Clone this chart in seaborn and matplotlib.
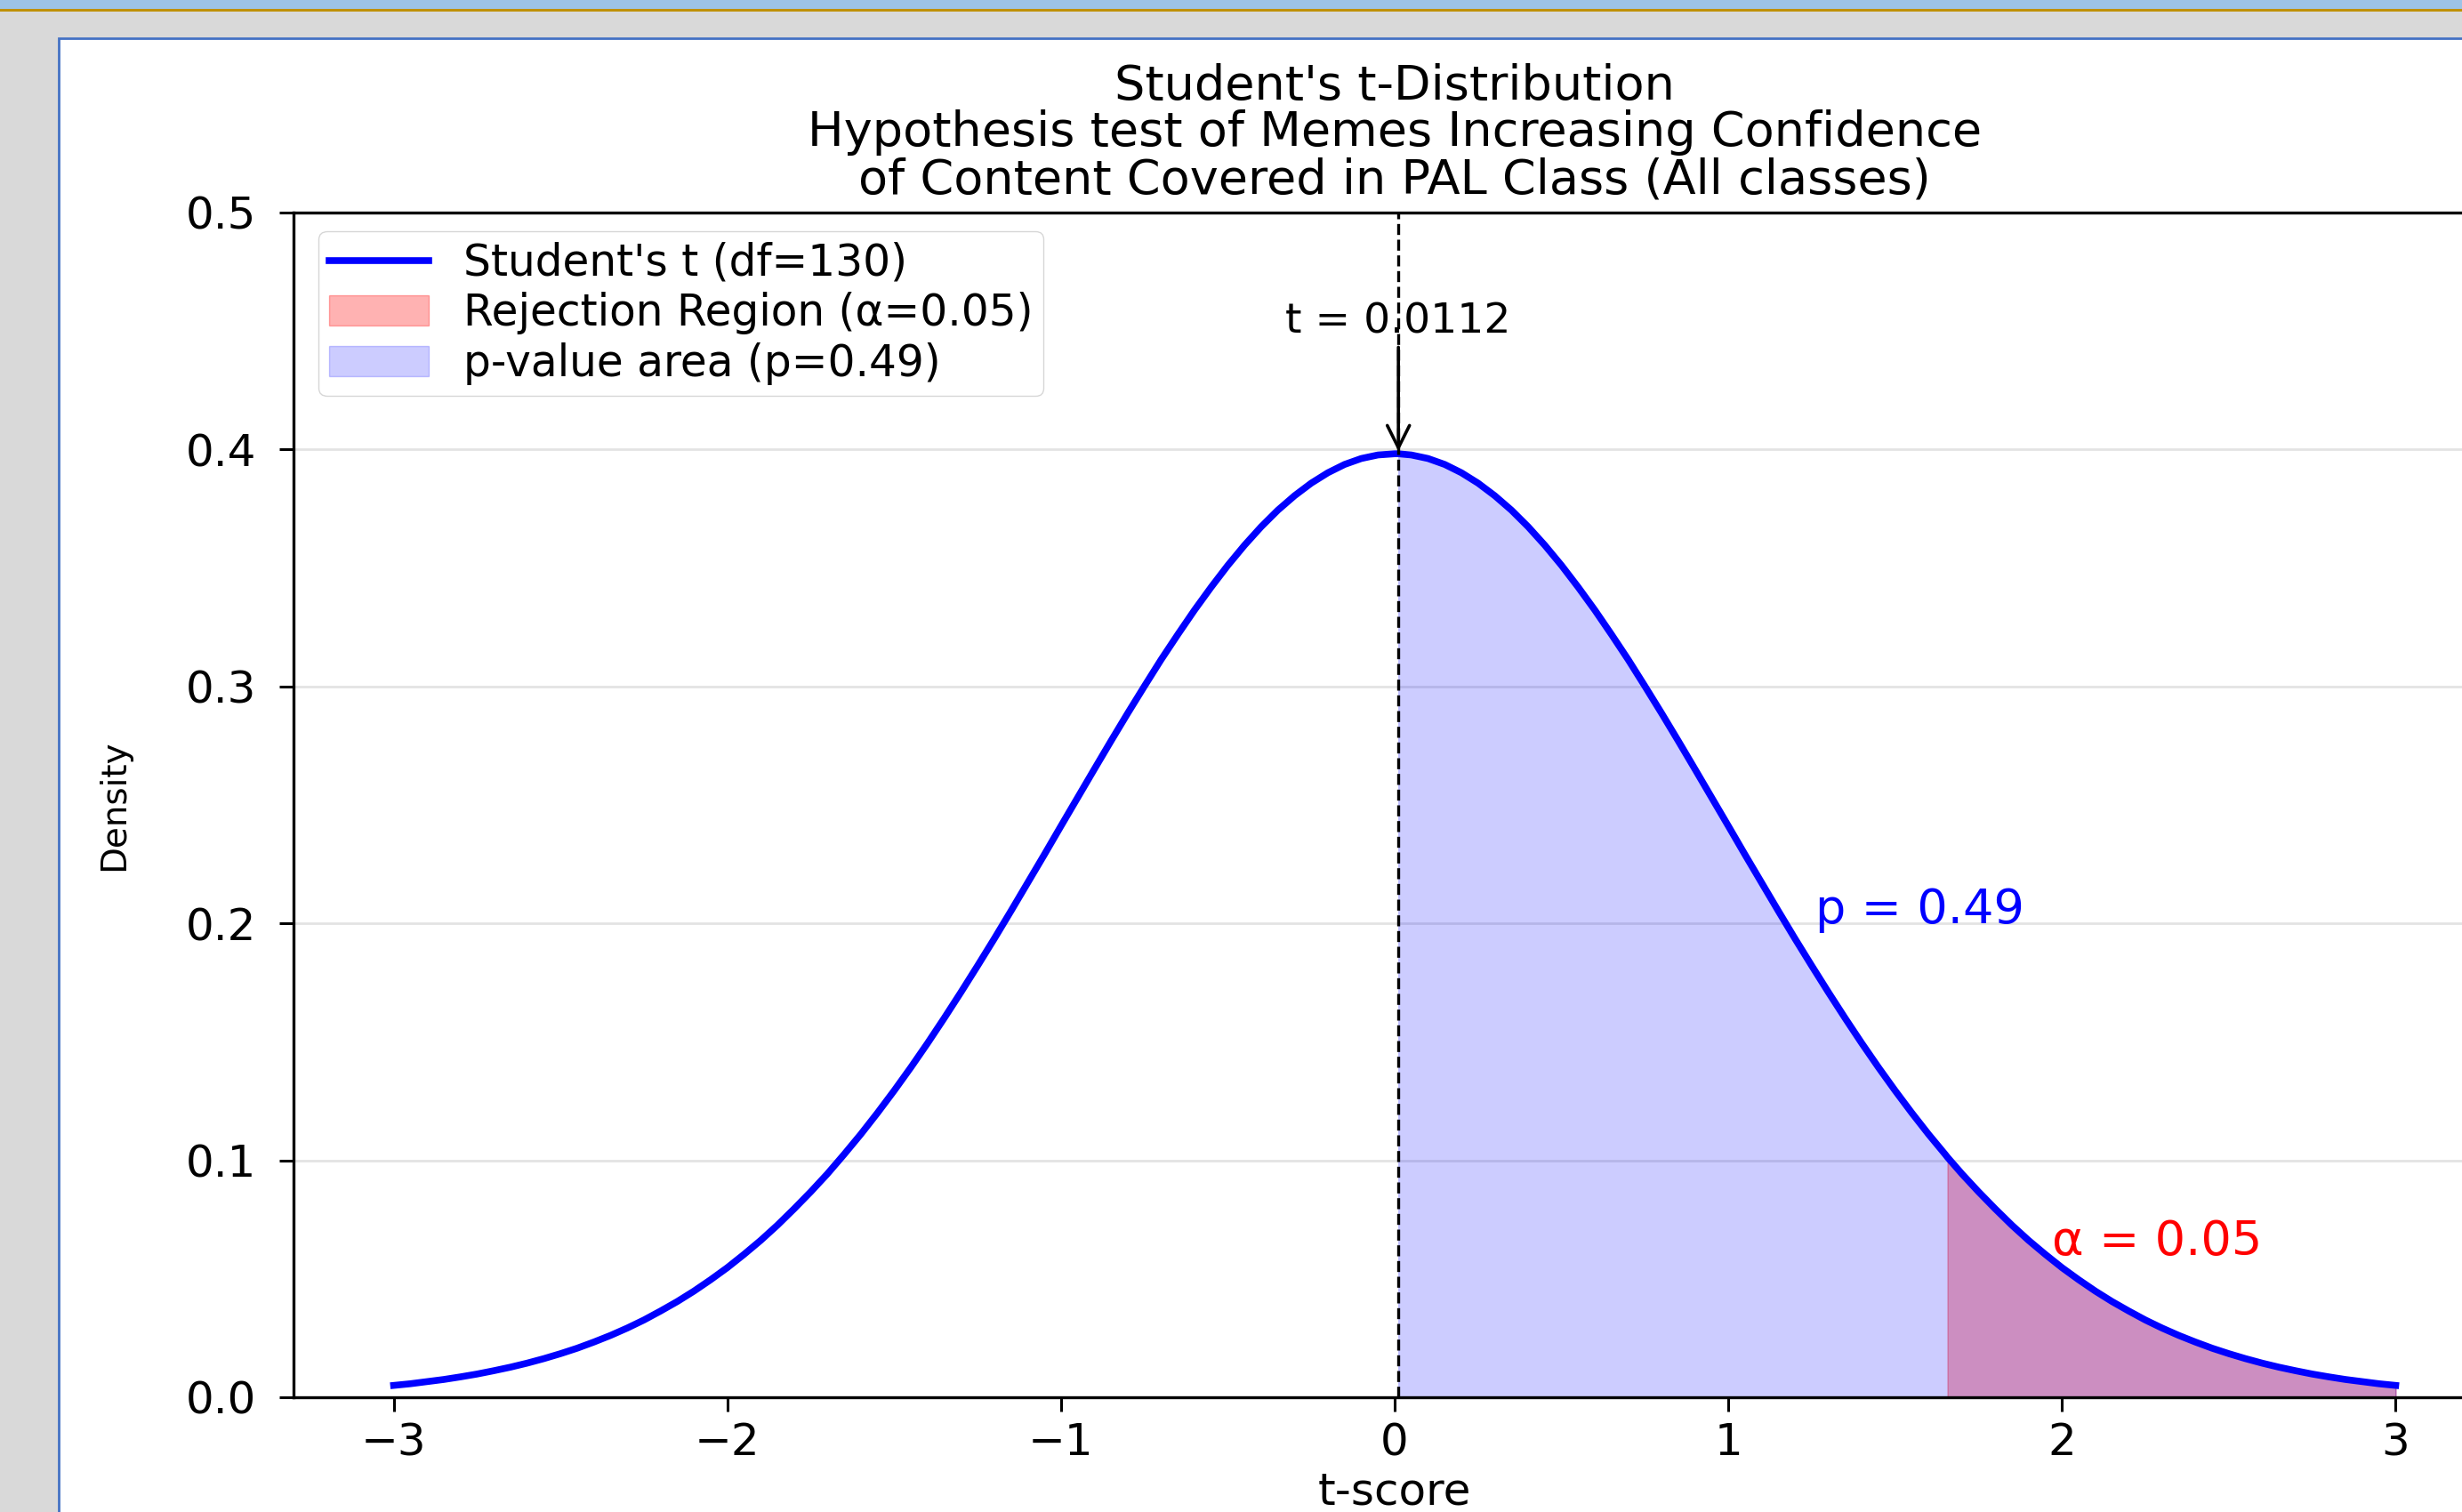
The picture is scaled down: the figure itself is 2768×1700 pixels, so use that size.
import numpy as np
import pandas as pd
import seaborn as sns
import matplotlib.pyplot as plt
from matplotlib.patches import Rectangle

# values
t_stat = 0.0112
t_crit = 1.6567
df_t = 130
alpha = 0.05
p_value = 0.49

t_vals = [-3.0, -2.95, -2.9, -2.85, -2.8, -2.75, -2.7, -2.65, -2.6, -2.55,
          -2.5, -2.45, -2.4, -2.35, -2.3, -2.25, -2.2, -2.15, -2.1, -2.05,
          -2.0, -1.95, -1.9, -1.85, -1.8, -1.75, -1.7, -1.65, -1.6, -1.55,
          -1.5, -1.45, -1.4, -1.35, -1.3, -1.25, -1.2, -1.15, -1.1, -1.05,
          -1.0, -0.95, -0.9, -0.85, -0.8, -0.75, -0.7, -0.65, -0.6, -0.55,
          -0.5, -0.45, -0.4, -0.35, -0.3, -0.25, -0.2, -0.15, -0.1, -0.05,
          0.0, 0.0112, 0.05, 0.1, 0.15, 0.2, 0.25, 0.3, 0.35, 0.4, 0.45,
          0.5, 0.55, 0.6, 0.65, 0.7, 0.75, 0.8, 0.85, 0.9, 0.95,
          1.0, 1.05, 1.1, 1.15, 1.2, 1.25, 1.3, 1.35, 1.4, 1.45,
          1.5, 1.55, 1.6, 1.65, 1.6567, 1.7, 1.75, 1.8, 1.85, 1.9, 1.95,
          2.0, 2.05, 2.1, 2.15, 2.2, 2.25, 2.3, 2.35, 2.4, 2.45,
          2.5, 2.55, 2.6, 2.65, 2.7, 2.75, 2.8, 2.85, 2.9, 2.95, 3.0]
density = [0.0050, 0.0057, 0.0066, 0.0075, 0.0086, 0.0098, 0.0112, 0.0127, 0.0144, 0.0163,
           0.0184, 0.0207, 0.0233, 0.0261, 0.0292, 0.0326, 0.0364, 0.0404, 0.0448, 0.0496,
           0.0547, 0.0603, 0.0662, 0.0726, 0.0795, 0.0867, 0.0943, 0.1025, 0.1110, 0.1200,
           0.1294, 0.1392, 0.1494, 0.1600, 0.1709, 0.1821, 0.1935, 0.2052, 0.2171, 0.2290,
           0.2411, 0.2531, 0.2651, 0.2770, 0.2887, 0.3001, 0.3113, 0.3219, 0.3322, 0.3419,
           0.3511, 0.3596, 0.3674, 0.3744, 0.3805, 0.3858, 0.3902, 0.3937, 0.3962, 0.3977,
           0.3982, 0.3982, 0.3977, 0.3962, 0.3937, 0.3902, 0.3858, 0.3805, 0.3744, 0.3674, 0.3596,
           0.3511, 0.3419, 0.3322, 0.3219, 0.3113, 0.3001, 0.2887, 0.2770, 0.2651, 0.2531,
           0.2411, 0.2290, 0.2171, 0.2052, 0.1935, 0.1821, 0.1709, 0.1600, 0.1494, 0.1392,
           0.1294, 0.1200, 0.1110, 0.1025, 0.1013, 0.0943, 0.0867, 0.0795, 0.0726, 0.0662, 0.0603,
           0.0547, 0.0496, 0.0448, 0.0404, 0.0364, 0.0326, 0.0292, 0.0261, 0.0233, 0.0207,
           0.0184, 0.0163, 0.0144, 0.0127, 0.0112, 0.0098, 0.0086, 0.0075, 0.0066, 0.0057, 0.0050]
x_ticks = [-3, -2, -1, 0, 1, 2, 3]
y_ticks = [0.0, 0.1, 0.2, 0.3, 0.4, 0.5]

data = pd.DataFrame({"t": t_vals, "density": density})

plt.rcParams['font.family'] = ['DejaVu Sans']
W, H = 2768, 1700
fig = plt.figure(figsize=(W / 100, H / 100), dpi=100, facecolor='#d9d9d9')

# window chrome around the figure (it's a screenshot)
fig.add_artist(Rectangle((0, 1 - 10 / H), 1, 10 / H, transform=fig.transFigure,
                         facecolor='#9dc3e6', edgecolor='none', zorder=-10))
fig.add_artist(Rectangle((0, 1 - 13 / H), 1, 3 / H, transform=fig.transFigure,
                         facecolor='#bf9000', edgecolor='none', zorder=-10))
fig.add_artist(Rectangle((66 / W, -0.01), 1, 1 - 43 / H + 0.01, transform=fig.transFigure,
                         facecolor='white', edgecolor='#4472c4', linewidth=2, zorder=-9))

ax = fig.add_axes([330 / W, 1 - 1571 / H, (2806 - 330) / W, (1571 - 239) / H])

sns.lineplot(data=data, x="t", y="density", color='blue', linewidth=5.5, ax=ax, legend=False)
curve = ax.lines[0]
curve.set_solid_joinstyle('round')

rej = data[data["t"] >= t_crit]
pv = data[data["t"] >= t_stat]
r_fill = ax.fill_between(rej["t"], rej["density"], color='red', alpha=0.3)
p_fill = ax.fill_between(pv["t"], pv["density"], color='blue', alpha=0.2)

ax.axvline(t_stat, color='black', linestyle='--', linewidth=2.4)
ax.annotate(f"t = {t_stat}", xy=(t_stat, density[t_vals.index(t_stat)]),
            xytext=(t_stat, 0.449), ha='center', fontsize=34,
            arrowprops=dict(arrowstyle='->', color='black', lw=2.6, mutation_scale=45))
ax.text(1.26, 0.2, f"p = {p_value}", color='blue', fontsize=39)
ax.text(1.97, 0.06, f"α = {alpha}", color='red', fontsize=39)

ax.set_xlim(-3.3, 3.3)
ax.set_ylim(0, 0.5)
ax.set_xticks(x_ticks)
ax.set_yticks(y_ticks)
ax.grid(axis='y', color='#e3e3e3', linewidth=2)
ax.set_axisbelow(True)
for s in ax.spines.values():
    s.set_linewidth(2.4)
    s.set_color('black')
ax.tick_params(axis='both', labelsize=36, length=11.5, width=2.2, color='black')
ax.tick_params(axis='x', pad=8)
ax.tick_params(axis='y', pad=19)

ax.set_xlabel("t-score", fontsize=36, labelpad=5.5)
ax.set_ylabel("Density", fontsize=28, labelpad=44)
ax.set_title("Student's t-Distribution\nHypothesis test of Memes Increasing Confidence\n"
             "of Content Covered in PAL Class (All classes)", fontsize=39, pad=15.5, linespacing=1.025)

ax.legend([curve, r_fill, p_fill],
          [f"Student's t (df={df_t})", f"Rejection Region (α={alpha})", f"p-value area (p={p_value})"],
          loc='upper left', bbox_to_anchor=(0.0113, 0.9846), borderaxespad=0,
          fontsize=35, handlelength=2.3, handletextpad=0.8,
          labelspacing=0.18, borderpad=0.25)

fig.savefig("out.png", dpi=100, facecolor=fig.get_facecolor())
